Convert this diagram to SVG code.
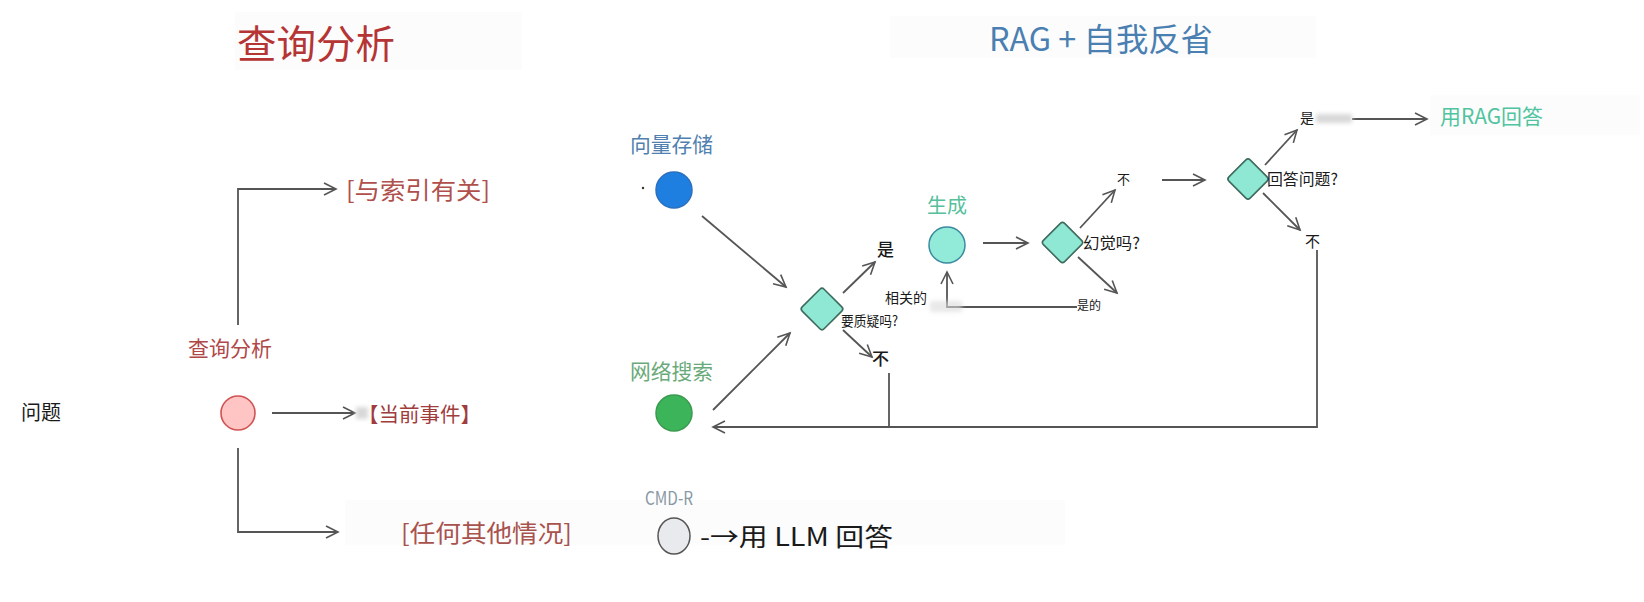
<svg xmlns="http://www.w3.org/2000/svg" width="1644" height="602" viewBox="0 0 1644 602">
<style>
  text { font-family: "Noto Sans CJK SC", "Noto Sans", sans-serif; dominant-baseline: central; }
  .lbl { fill: #1a1a1a; }
  .red { fill: #b04848; }
  .conn { fill: none; stroke: #555; stroke-width: 1.8; }
  .dia { fill: #8fe8d3; stroke: #3d6b5e; stroke-width: 1.6; }
  .bg { fill: #fcfcfc; }
  .smudge { fill: #d8d8d8; filter: url(#blur); }
</style>
<defs>
  <marker id="arr" markerUnits="userSpaceOnUse" markerWidth="16" markerHeight="16" refX="13" refY="7" orient="auto">
    <path d="M1,1 L13,7 L1,13" fill="none" stroke="#555" stroke-width="1.6"/>
  </marker>
  <filter id="blur" x="-20%" y="-50%" width="140%" height="200%"><feGaussianBlur stdDeviation="2"/></filter>
</defs>
<rect width="1644" height="602" fill="#ffffff"/>

<g id="backgrounds">
  <rect class="bg" x="235" y="12" width="287" height="58"/>
  <rect class="bg" x="890" y="16" width="426" height="42"/>
  <rect class="bg" x="1430" y="95" width="210" height="40"/>
  <rect class="bg" x="345" y="500" width="720" height="45"/>
</g>

<g id="titles">
  <text x="237" y="41" font-size="39" fill="#b53535" textLength="158" lengthAdjust="spacingAndGlyphs">查询分析</text>
  <text x="989" y="37" font-size="32" fill="#4a7fb2" textLength="224" lengthAdjust="spacingAndGlyphs">RAG + 自我反省</text>
</g>

<g id="connectors">
  <path class="conn" d="M238,325 V189 H336" marker-end="url(#arr)"/>
  <path class="conn" d="M272,413 H355" marker-end="url(#arr)"/>
  <path class="conn" d="M238,448 V532 H338" marker-end="url(#arr)"/>
  <path class="conn" d="M702,216 L786,287" marker-end="url(#arr)"/>
  <path class="conn" d="M713,410 L790,333" marker-end="url(#arr)"/>
  <path class="conn" d="M843,293 L875,262" marker-end="url(#arr)"/>
  <path class="conn" d="M843,330 L872,357" marker-end="url(#arr)"/>
  <path class="conn" d="M889,373 V427"/>
  <path class="conn" d="M1317,250 V427 H713" marker-end="url(#arr)"/>
  <path class="conn" d="M1077,307 H947 V272" marker-end="url(#arr)"/>
  <path class="conn" d="M983,243 H1028" marker-end="url(#arr)"/>
  <path class="conn" d="M1080,228 L1115,190" marker-end="url(#arr)"/>
  <path class="conn" d="M1078,257 L1117,293" marker-end="url(#arr)"/>
  <path class="conn" d="M1162,180 H1205" marker-end="url(#arr)"/>
  <path class="conn" d="M1265,165 L1297,130" marker-end="url(#arr)"/>
  <path class="conn" d="M1263,193 L1300,230" marker-end="url(#arr)"/>
  <path class="conn" d="M1352,119 H1427" marker-end="url(#arr)"/>
</g>

<g id="smudges">
  <rect class="smudge" x="930" y="301" width="32" height="11" fill-opacity="0.6"/>
  <rect class="smudge" x="1316" y="114" width="36" height="9"/>
  <rect class="smudge" x="356" y="407" width="12" height="12"/>
</g>

<g id="question">
  <text class="lbl" x="21" y="411" font-size="20">问题</text>
</g>

<g id="query-analysis">
  <text class="red" x="188" y="347" font-size="21" textLength="84" lengthAdjust="spacingAndGlyphs">查询分析</text>
  <circle cx="238" cy="413" r="17" fill="#ffc4c4" stroke="#d05252" stroke-width="1.6"/>
</g>

<g id="label-index">
  <text x="346" y="188" font-size="24" fill="#b0504c" textLength="144" lengthAdjust="spacingAndGlyphs">[与索引有关]</text>
</g>
<g id="label-events">
  <text x="358" y="413" font-size="20.5" fill="#a03c3c">【当前事件】</text>
</g>
<g id="label-other">
  <text x="401" y="531" font-size="24" fill="#a8524e" textLength="171" lengthAdjust="spacingAndGlyphs">[任何其他情况]</text>
</g>

<g id="vector-store">
  <text x="630" y="143" font-size="21" fill="#5080b0" textLength="83" lengthAdjust="spacingAndGlyphs">向量存储</text>
  <circle cx="643" cy="188" r="1.2" fill="#333"/>
  <circle cx="674" cy="190" r="18" fill="#1f7fe0" stroke="#2b6fbf" stroke-width="1.5"/>
</g>

<g id="web-search">
  <text x="630" y="370" font-size="21" fill="#6aaa7a" textLength="83" lengthAdjust="spacingAndGlyphs">网络搜索</text>
  <circle cx="674" cy="413" r="18" fill="#3cb55a" stroke="#3a9a50" stroke-width="1.5"/>
</g>

<g id="cmd-r">
  <text x="645" y="497" font-size="18" fill="#8898a4" font-family="DejaVu Sans Mono, monospace" textLength="48" lengthAdjust="spacingAndGlyphs">CMD-R</text>
  <ellipse cx="674" cy="536" rx="16" ry="18" fill="#e8eaee" stroke="#555" stroke-width="1.5"/>
  <text class="lbl" x="700" y="535" font-size="25" textLength="193" lengthAdjust="spacingAndGlyphs">-→用 LLM 回答</text>
</g>

<g id="grade-docs">
  <rect class="dia" x="806.5" y="293.5" width="31" height="31" rx="3" transform="rotate(45 822 309)"/>
  <text class="lbl" x="841" y="320" font-size="14" textLength="57" lengthAdjust="spacingAndGlyphs">要质疑吗?</text>
  <text class="lbl" x="877" y="248" font-size="17" font-weight="500">是</text>
  <text class="lbl" x="885" y="297" font-size="14" textLength="42" lengthAdjust="spacingAndGlyphs">相关的</text>
  <text class="lbl" x="872" y="357" font-size="17" font-weight="500">不</text>
</g>

<g id="generate">
  <text x="927" y="204" font-size="20" fill="#55c09a" textLength="40" lengthAdjust="spacingAndGlyphs">生成</text>
  <circle cx="947" cy="245" r="18" fill="#92ead8" stroke="#3a8aa0" stroke-width="1.5"/>
</g>

<g id="hallucination">
  <rect class="dia" x="1047.5" y="227.5" width="30" height="30" rx="3" transform="rotate(45 1062.5 242.5)"/>
  <text class="lbl" x="1083" y="242" font-size="16" textLength="57" lengthAdjust="spacingAndGlyphs">幻觉吗?</text>
  <text class="lbl" x="1117" y="178" font-size="13">不</text>
  <text class="lbl" x="1077" y="304" font-size="12" textLength="24" lengthAdjust="spacingAndGlyphs">是的</text>
</g>

<g id="answers-question">
  <rect class="dia" x="1233" y="164" width="30" height="30" rx="3" transform="rotate(45 1248 179)"/>
  <text class="lbl" x="1267" y="178" font-size="16" textLength="71" lengthAdjust="spacingAndGlyphs">回答问题?</text>
  <text class="lbl" x="1300" y="117" font-size="14">是</text>
  <text class="lbl" x="1305" y="240" font-size="15">不</text>
</g>

<g id="answer-rag">
  <text x="1440" y="115" font-size="21" fill="#50c4a0" textLength="103" lengthAdjust="spacingAndGlyphs">用RAG回答</text>
</g>
</svg>
